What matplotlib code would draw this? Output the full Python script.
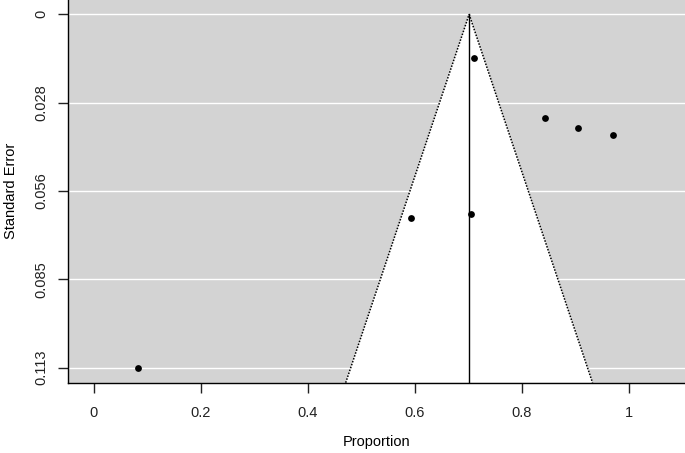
import numpy as np
import matplotlib
matplotlib.use("Agg")
import matplotlib.pyplot as plt

plt.rcParams['font.family'] = ['Liberation Sans', 'DejaVu Sans']

# study estimates (proportions) and standard errors
yi = [0.7105, 0.8440, 0.9050, 0.9710, 0.5935, 0.7055, 0.0833]
sei = [0.0141, 0.0330, 0.0363, 0.0386, 0.0650, 0.0638, 0.1129]
est = 0.7015          # pooled estimate
se_max = 0.1129
x_ticks = [0, 0.2, 0.4, 0.6, 0.8, 1]
x_labels = ["0", "0.2", "0.4", "0.6", "0.8", "1"]
y_labels = ["0", "0.028", "0.056", "0.085", "0.113"]

y_ticks = se_max * np.array([0, 0.25, 0.5, 0.75, 1.0])
x_lo, x_hi = -0.0477, 1.105
y_top, y_bot = -0.00457, 0.1177

fig = plt.figure(figsize=(6.85, 4.53), dpi=100)
ax = fig.add_axes([68.3 / 685, 70.3 / 453, 1 - 68.3 / 685, 1 - 70.3 / 453])
ax.set_facecolor("#d3d3d3")

# white gridlines at y ticks
for t in y_ticks:
    ax.axhline(t, color="white", lw=1.0, zorder=1)

# funnel region
z = 1.96
tri_x = [est - z * y_bot, est, est + z * y_bot]
tri_y = [y_bot, 0, y_bot]
ax.fill(tri_x, tri_y, color="white", zorder=2, lw=0)
ax.plot([tri_x[0], est], [y_bot, 0], color="black", ls=(0, (1, 1)), lw=1.1, zorder=3)
ax.plot([est, tri_x[2]], [0, y_bot], color="black", ls=(0, (1, 1)), lw=1.1, zorder=3)
ax.plot([est, est], [0, y_bot], color="black", lw=1, zorder=3)

ax.scatter(yi, sei, s=24, color="black", zorder=4, lw=0)

ax.set_xlim(x_lo, x_hi)
ax.set_ylim(y_bot, y_top)
ax.set_xticks(x_ticks)
ax.set_xticklabels(x_labels)
ax.set_yticks(y_ticks)
ax.set_yticklabels(y_labels, rotation=90, va="center")

for s in ["top", "right"]:
    ax.spines[s].set_visible(False)
for s in ["left", "bottom"]:
    ax.spines[s].set_linewidth(1)
    ax.spines[s].set_color("black")

ax.tick_params(axis="both", direction="out", length=7, width=1, labelsize=10.5,
               colors="#222222")
ax.tick_params(axis="y", pad=7)
ax.tick_params(axis="x", pad=9.5)

ax.set_xlabel("Proportion", fontsize=10.5, labelpad=11)
ax.set_ylabel("Standard Error", fontsize=10.5, labelpad=12)

fig.savefig("out.png", dpi=100)
